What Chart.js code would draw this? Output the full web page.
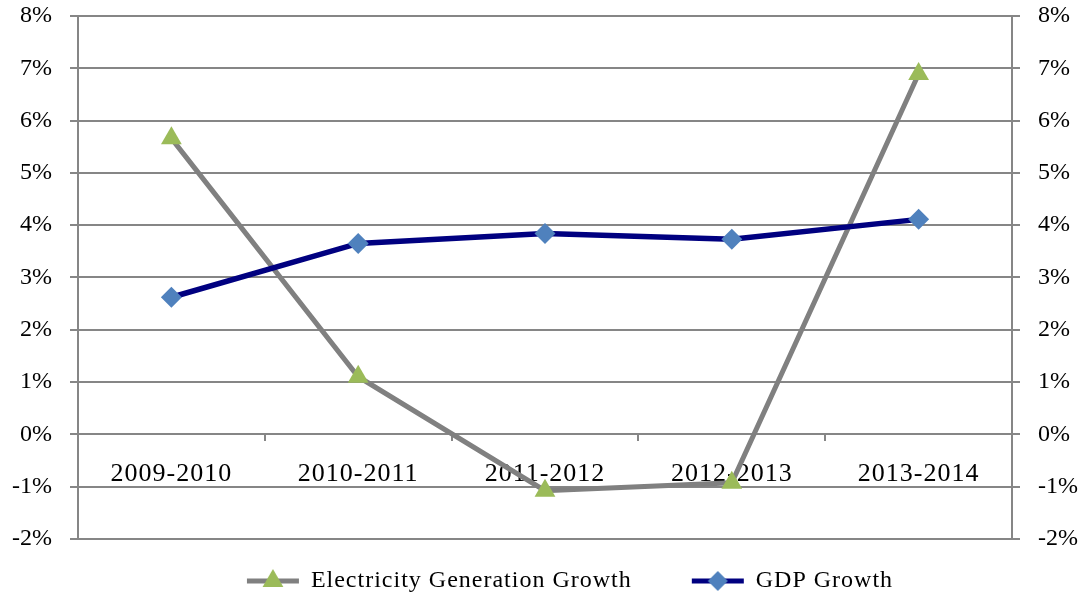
<!DOCTYPE html>
<html>
<head>
<meta charset="utf-8">
<script src="https://cdn.jsdelivr.net/npm/chart.js@4"></script>
<style>
html,body{margin:0;padding:0;background:#fff;}
#wrap{width:1080px;height:595px;position:relative;}
</style>
</head>
<body>
<div id="wrap"><canvas id="c" width="1080" height="595"></canvas></div>
<script>
const categories = ['2009-2010', '2010-2011', '2011-2012', '2012-2013', '2013-2014'];
const electricityGrowth = [5.66, 1.10, -1.08, -0.93, 6.89];
const gdpGrowth = [2.62, 3.65, 3.84, 3.73, 4.11];
const yTicks = [-2, -1, 0, 1, 2, 3, 4, 5, 6, 7, 8];

const GRID = '#868686';
const FAMILY = '"Liberation Serif", "Times New Roman", serif';
const FONT_Y = {family: FAMILY, size: 24};
const FONT_X = {family: FAMILY, size: 26};
const FONT_L = {family: FAMILY, size: 24};

// legend icon: blank margin on the left acts as gap between legend items
function legendIcon(lineColor, style, fill, r) {
  const c = document.createElement('canvas');
  c.width = 120; c.height = 26;
  const ctx = c.getContext('2d');
  const x0 = 64, x1 = 116, cx = (x0 + x1) / 2, cy = 13;
  ctx.strokeStyle = lineColor; ctx.lineWidth = 5;
  ctx.beginPath(); ctx.moveTo(x0, cy); ctx.lineTo(x1, cy); ctx.stroke();
  ctx.fillStyle = fill;
  ctx.beginPath();
  if (style === 'triangle') {
    ctx.moveTo(cx, cy - r);
    ctx.lineTo(cx + r * Math.sin(2 * Math.PI / 3), cy + r * 0.5);
    ctx.lineTo(cx - r * Math.sin(2 * Math.PI / 3), cy + r * 0.5);
  } else {
    ctx.moveTo(cx, cy - r); ctx.lineTo(cx + r, cy); ctx.lineTo(cx, cy + r); ctx.lineTo(cx - r, cy);
  }
  ctx.closePath(); ctx.fill();
  return c;
}
const iconElec = legendIcon('#808080', 'triangle', '#9BBB59', 12);
const iconGdp = legendIcon('#000080', 'diamond', '#4F81BD', 10);

const spacingPlugin = {
  id: 'spacing',
  beforeLayout(chart) { chart.ctx.letterSpacing = '1px'; },
  beforeDraw(chart) { chart.ctx.letterSpacing = '1px'; },
  afterDatasetsDraw(chart) { chart.ctx.letterSpacing = '0px'; }
};

function fixY(width) {
  return (s) => { s.width = width; s.paddingTop = 16; s.paddingBottom = 0; };
}

new Chart(document.getElementById('c'), {
  type: 'line',
  plugins: [spacingPlugin],
  data: {
    labels: categories,
    datasets: [
      {
        label: 'Electricity Generation Growth',
        data: electricityGrowth,
        borderColor: '#808080',
        borderWidth: 5,
        pointStyle: 'triangle',
        pointRadius: 12,
        pointBackgroundColor: '#9BBB59',
        pointBorderColor: '#9BBB59',
        pointBorderWidth: 0,
        tension: 0,
        yAxisID: 'y',
        order: 2
      },
      {
        label: 'GDP Growth',
        data: gdpGrowth,
        borderColor: '#000080',
        borderWidth: 5.5,
        pointStyle: 'rectRot',
        pointRadius: 10.5,
        pointBackgroundColor: '#4F81BD',
        pointBorderColor: '#4F81BD',
        pointBorderWidth: 0,
        tension: 0,
        yAxisID: 'y',
        order: 1
      }
    ]
  },
  options: {
    responsive: false,
    animation: false,
    devicePixelRatio: 1,
    layout: {padding: {top: 0, left: 0, right: 0, bottom: -8}},
    scales: {
      x: {
        position: {y: 0},
        offset: true,
        grid: {offset: true, drawOnChartArea: false, drawTicks: true, tickLength: 7, color: GRID, lineWidth: 2},
        border: {display: false},
        ticks: {color: '#000', font: FONT_X, padding: 17, maxRotation: 0}
      },
      y: {
        position: 'left',
        min: -2, max: 8,
        afterBuildTicks: (s) => { s.ticks = yTicks.map(v => ({value: v})); },
        afterFit: fixY(78),
        grid: {color: GRID, lineWidth: 2, tickLength: 8},
        border: {color: GRID, width: 2},
        ticks: {color: '#000', font: FONT_Y, padding: 18, z: 1, callback: v => v + '%'}
      },
      y2: {
        position: 'right',
        min: -2, max: 8,
        afterBuildTicks: (s) => { s.ticks = yTicks.map(v => ({value: v})); },
        afterFit: fixY(68),
        grid: {drawOnChartArea: false, color: GRID, lineWidth: 2, tickLength: 8},
        border: {color: GRID, width: 2},
        ticks: {color: '#000', font: FONT_Y, padding: 18, z: 1, callback: v => v + '%'}
      }
    },
    plugins: {
      legend: {
        position: 'bottom',
        title: {display: true, text: ' ', font: {size: 1}, padding: {top: 16, bottom: 13}},
        labels: {
          color: '#000',
          font: FONT_L,
          usePointStyle: true,
          pointStyleWidth: 112,
          padding: 0,
          generateLabels: (chart) => [
            {text: 'Electricity Generation Growth', pointStyle: iconElec, datasetIndex: 0, fillStyle: '#9BBB59', strokeStyle: '#808080', lineWidth: 0, fontColor: '#000'},
            {text: 'GDP Growth', pointStyle: iconGdp, datasetIndex: 1, fillStyle: '#4F81BD', strokeStyle: '#000080', lineWidth: 0, fontColor: '#000'}
          ]
        }
      },
      tooltip: {enabled: false}
    }
  }
});
</script>
</body>
</html>
